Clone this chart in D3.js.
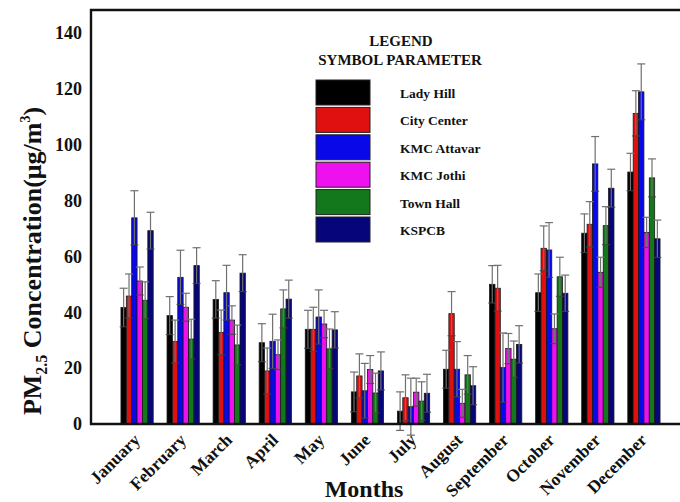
<!DOCTYPE html>
<html>
<head>
<meta charset="utf-8">
<script src="https://cdn.jsdelivr.net/npm/d3@7"></script>
<style>
  html, body { margin: 0; padding: 0; background: #fff; }
  svg { display: block; }
  text { font-family: "Liberation Serif", "Times New Roman", serif; font-weight: bold; fill: #111; }
</style>
</head>
<body>
<svg id="chart" width="680" height="502"></svg>
<script>
// ---- data ----
const months = ["January","February","March","April","May","June","July","August","September","October","November","December"];
const seriesNames = ["Lady Hill","City Center","KMC Attavar","KMC Jothi","Town Hall","KSPCB"];
const seriesColors = ["#000000","#e01010","#0808e8","#ee10ee","#13781b","#06067a"];
const yTicks = [0, 20, 40, 60, 80, 100, 120, 140];

const ladyHill   = [41.7, 38.8, 44.6, 29.1, 33.9, 11.5, 4.6, 19.6, 50.0, 47.0, 68.3, 90.2];
const cityCenter = [45.8, 29.5, 32.8, 19.0, 33.9, 17.2, 9.4, 39.5, 48.6, 62.9, 71.5, 111.2];
const kmcAttavar = [73.8, 52.5, 47.0, 29.6, 38.3, 11.9, 6.2, 19.6, 20.2, 62.3, 93.1, 118.9];
const kmcJothi   = [51.2, 41.8, 37.2, 24.8, 35.8, 19.5, 11.4, 7.4, 27.0, 34.1, 54.3, 68.6];
const townHall   = [44.3, 30.4, 28.3, 41.2, 26.9, 11.1, 8.2, 17.6, 23.2, 52.7, 71.0, 88.1];
const kspcb      = [69.2, 56.7, 54.0, 44.7, 33.7, 19.0, 11.0, 13.7, 28.5, 46.8, 84.4, 66.3];

const ladyHillErr   = [6.9, 6.8, 6.7, 6.8, 6.8, 7.1, 6.9, 6.8, 6.7, 6.7, 6.9, 6.7];
const cityCenterErr = [7.9, 7.7, 8.0, 8.2, 7.9, 7.9, 8.2, 7.9, 8.2, 8.0, 8.1, 8.1];
const kmcAttavarErr = [9.7, 9.7, 9.8, 9.7, 9.7, 9.8, 10.2, 9.9, 12.4, 9.8, 9.8, 10.0];
const kmcJothiErr   = [5.0, 5.0, 5.1, 5.3, 4.9, 5.0, 5.0, 5.0, 5.4, 5.3, 5.4, 5.4];
const townHallErr   = [6.6, 7.1, 7.1, 6.8, 7.1, 7.1, 6.9, 6.9, 6.5, 7.0, 6.8, 6.8];
const kspcbErr      = [6.6, 6.4, 6.6, 6.8, 6.5, 6.8, 6.8, 6.8, 6.7, 6.5, 6.8, 6.7];

const seriesValues = [ladyHill, cityCenter, kmcAttavar, kmcJothi, townHall, kspcb];
const seriesErrors = [ladyHillErr, cityCenterErr, kmcAttavarErr, kmcJothiErr, townHallErr, kspcbErr];

// ---- layout ----
const svg = d3.select("#chart");
const mLeft = 91, mTop = 10, mBottom = 424, mRight = 690;

const x = d3.scaleBand().domain(months).range([mLeft, mRight]).paddingInner(0.3).paddingOuter(0.65);
const xs = d3.scaleBand().domain(seriesNames).range([0, x.bandwidth()]).padding(0);
const y = d3.scaleLinear().domain([0, 148.2]).range([mBottom, mTop]);

const records = [];
months.forEach((m, i) => {
  seriesNames.forEach((s, j) => {
    records.push({ month: m, series: s, color: seriesColors[j], value: seriesValues[j][i], err: seriesErrors[j][i] });
  });
});

// bars
svg.append("g").selectAll("rect").data(records).join("rect")
  .attr("x", d => x(d.month) + xs(d.series))
  .attr("y", d => y(d.value))
  .attr("width", xs.bandwidth())
  .attr("height", d => y(0) - y(d.value))
  .attr("fill", d => d.color)
  .attr("stroke", "#1a1a1a")
  .attr("stroke-width", 0.8);

// error bars
const eg = svg.append("g").attr("stroke", "#707070").attr("stroke-width", 1.2).attr("fill", "none");
const eb = eg.selectAll("g").data(records).join("g")
  .attr("transform", d => `translate(${x(d.month) + xs(d.series) + xs.bandwidth() / 2},0)`);
eb.append("line").attr("x1", 0).attr("x2", 0)
  .attr("y1", d => y(d.value + d.err)).attr("y2", d => y(d.value - d.err));
eb.append("line").attr("x1", -4).attr("x2", 4)
  .attr("y1", d => y(d.value + d.err)).attr("y2", d => y(d.value + d.err));
eb.append("line").attr("x1", -4).attr("x2", 4)
  .attr("y1", d => y(d.value - d.err)).attr("y2", d => y(d.value - d.err))
  .attr("stroke", "#444").attr("stroke-opacity", 0.8);

// frame
svg.append("path")
  .attr("d", `M${mRight + 20},${mTop}H${mLeft}V${mBottom}H${mRight + 20}`)
  .attr("fill", "none").attr("stroke", "#111").attr("stroke-width", 2.4);

// y axis labels
const yAxis = d3.axisLeft(y).tickValues(yTicks).tickSize(0).tickPadding(9);
const ya = svg.append("g").attr("transform", `translate(${mLeft},0)`).call(yAxis);
ya.select(".domain").remove();
ya.selectAll("text").attr("font-size", 18).attr("font-family", "Liberation Serif, serif").attr("font-weight", "bold").attr("fill", "#111");

// x axis labels
const xAxis = d3.axisBottom(x).tickSize(0).tickPadding(0);
const xa = svg.append("g").attr("transform", `translate(0,${mBottom})`).call(xAxis);
xa.select(".domain").remove();
xa.selectAll("text")
  .attr("font-size", 17.5).attr("font-family", "Liberation Serif, serif").attr("font-weight", "bold").attr("fill", "#111")
  .attr("text-anchor", "end")
  .attr("dy", "0")
  .attr("y", 0)
  .attr("transform", "translate(4,17) rotate(-45)");

// axis titles
svg.append("text").attr("x", 364).attr("y", 497).attr("text-anchor", "middle").attr("font-size", 24).text("Months");

const yt = svg.append("text").attr("transform", "translate(41,261) rotate(-90)").attr("text-anchor", "middle").attr("font-size", 26);
yt.append("tspan").text("PM");
yt.append("tspan").attr("font-size", 16).attr("dy", 6).text("2.5");
yt.append("tspan").attr("dy", -6).text(" Concentration(μg/m");
yt.append("tspan").attr("font-size", 14).attr("dy", -11).text("3");
yt.append("tspan").attr("dy", 11).text(")");

// legend
svg.append("text").attr("x", 401).attr("y", 46).attr("text-anchor", "middle").attr("font-size", 15).text("LEGEND");
svg.append("text").attr("x", 400).attr("y", 65).attr("text-anchor", "middle").attr("font-size", 15).text("SYMBOL PARAMETER");
const lg = svg.append("g").selectAll("g").data(seriesNames).join("g")
  .attr("transform", (d, i) => `translate(316,${80 + i * 27.4})`);
lg.append("rect").attr("width", 54).attr("height", 25)
  .attr("fill", (d, i) => seriesColors[i]).attr("stroke", "#222").attr("stroke-width", 1);
lg.append("text").attr("x", 84).attr("y", 18).attr("font-size", 13.5).text(d => d);
</script>
</body>
</html>
